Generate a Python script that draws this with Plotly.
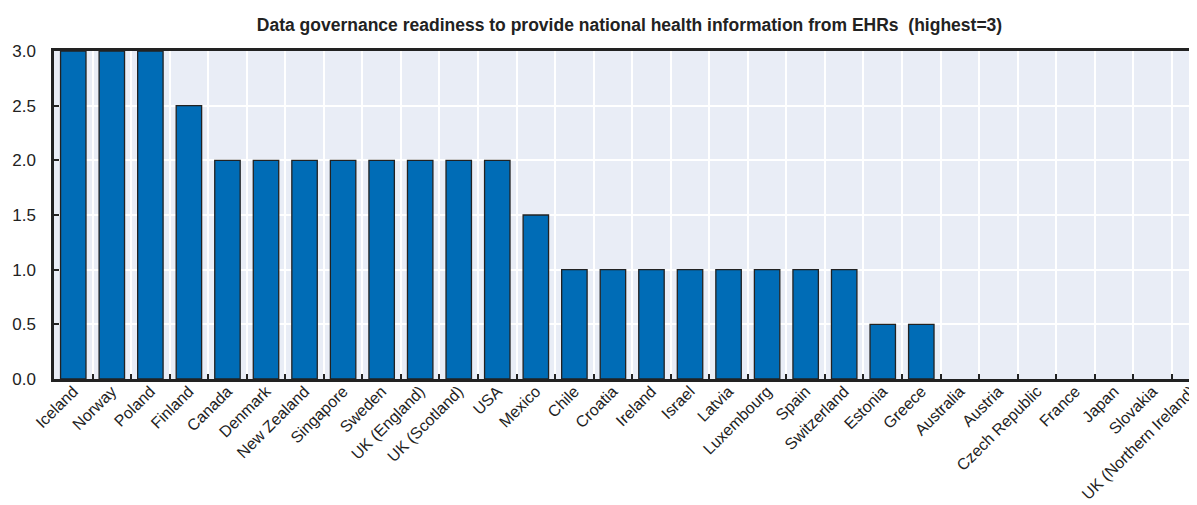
import plotly.graph_objects as go

countries = ["Iceland", "Norway", "Poland", "Finland", "Canada", "Denmark", "New Zealand",
             "Singapore", "Sweden", "UK (England)", "UK (Scotland)", "USA", "Mexico", "Chile",
             "Croatia", "Ireland", "Israel", "Latvia", "Luxembourg", "Spain", "Switzerland",
             "Estonia", "Greece", "Australia", "Austria", "Czech Republic", "France", "Japan",
             "Slovakia", "UK (Northern Ireland)"]
values = [3, 3, 3, 2.5, 2, 2, 2, 2, 2, 2, 2, 2, 1.5, 1, 1, 1, 1, 1, 1, 1, 1,
          0.5, 0.5, 0, 0, 0, 0, 0, 0, 0]
yticks = [0, 0.5, 1.0, 1.5, 2.0, 2.5, 3.0]
title = "<b>Data governance readiness to provide national health information from EHRs  (highest=3)</b>"

FONT = "Liberation Sans Narrow, Arial Narrow, Liberation Sans, Arial, sans-serif"
DARK = "#222222"

fig = go.Figure(go.Bar(
    x=countries, y=values,
    marker=dict(color="#006CB6",
                line=dict(color=DARK, width=[1.3 if v > 0 else 0 for v in values])),
    width=0.66,
))

fig.update_layout(
    width=1197, height=505,
    margin=dict(l=46, r=0, t=43, b=134),
    paper_bgcolor="white", plot_bgcolor="#E9EDF6",
    font=dict(family=FONT, size=16, color=DARK),
    title=dict(text=title, x=0.5, xref="paper", xanchor="center",
               y=0.966, yref="container", yanchor="middle",
               font=dict(family=FONT, size=17.5, color=DARK)),
    showlegend=False,
)
fig.update_xaxes(
    type="category", range=[-0.5, 29.36],
    tickson="boundaries", ticks="inside", ticklen=5, tickcolor=DARK, tickwidth=1.5,
    showgrid=True, gridcolor="white", gridwidth=2,
    showline=True, linecolor=DARK, linewidth=2.5, mirror=True,
    tickangle=-45, ticklabelstandoff=-6,
    tickfont=dict(family=FONT, size=16, color=DARK),
)
fig.update_yaxes(
    range=[0, 3], tickvals=yticks, ticktext=[f"{v:.1f}" for v in yticks],
    ticks="inside", ticklen=5, tickcolor=DARK, tickwidth=1.5,
    showgrid=True, gridcolor="white", gridwidth=2,
    showline=True, linecolor=DARK, linewidth=2.5,
    zeroline=False, ticklabelstandoff=12,
    tickfont=dict(family=FONT, size=17, color=DARK),
)

fig.write_html("out.html")
